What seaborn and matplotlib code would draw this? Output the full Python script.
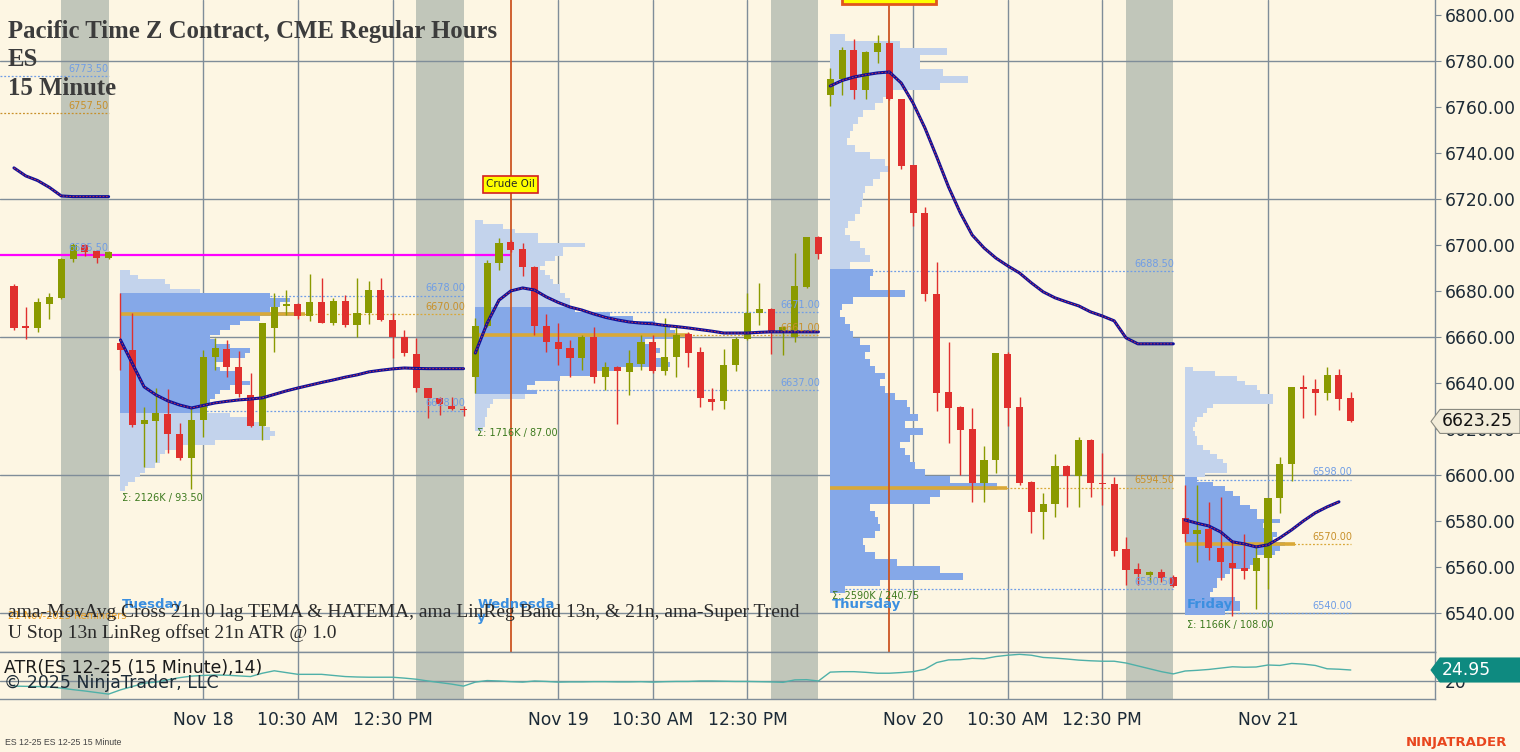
import numpy as np
import pandas as pd
import matplotlib.pyplot as plt
import seaborn as sns
from matplotlib.patches import Polygon

# %% data
# ES 12-25 15 minute bars: last 9 bars of Mon 17 Nov, Tue/Wed/Thu sessions, Fri up to 11:15
opens = [
    6682, 6664.5, 6664, 6674.5, 6677, 6694, 6700, 6697.5, 6694.5,
    6657.5, 6654.25, 6622, 6623.5, 6626.5, 6617.75, 6607.5, 6624, 6651.25, 6654.75,
    6647, 6634.75, 6621.25, 6664, 6673.5, 6674.25, 6669, 6675.25, 6666, 6675.75,
    6665.25, 6670.5, 6680.5, 6667.5, 6660, 6652.75, 6637.75, 6633.5, 6630, 6628.75,
    6642.5, 6664.75, 6692.25, 6701.25, 6698.25, 6690.5, 6664.75, 6657.75, 6655.25, 6651,
    6660, 6642.5, 6647, 6644.75, 6648.25, 6657.75, 6645.25, 6651.25, 6661.25, 6653.5,
    6633, 6632.25, 6647.75, 6659, 6670.5, 6672.25, 6661.75, 6660, 6681.75, 6703.5,
    6765.25, 6772.25, 6784.75, 6767.5, 6784, 6787.75, 6763.5, 6734.75, 6714, 6678.75,
    6636, 6629.5, 6620, 6596.5, 6606.5, 6652.5, 6629.5, 6597, 6584, 6587.5,
    6604, 6599.5, 6615.25, 6596.5, 6596, 6567.75, 6559, 6556.5, 6557.75, 6555.75,
    6581.25, 6574.25, 6576.5, 6568.25, 6561.75, 6559.5, 6558.25, 6564, 6590, 6604.75,
    6637.75, 6637.5, 6635.75, 6643.5, 6633.5,
]
highs = [
    6683, 6673, 6677, 6679, 6694.5, 6701, 6700.5, 6698, 6697.5,
    6679, 6670.5, 6629.5, 6638, 6637.5, 6622.5, 6629.5, 6654.25, 6659.5, 6658.75,
    6654, 6644.25, 6666, 6679, 6680.5, 6674.75, 6687.5, 6685.75, 6677, 6678.25,
    6685.75, 6684.25, 6685.75, 6670.5, 6663, 6659.5, 6638, 6634, 6634, 6630,
    6668.25, 6693.5, 6703, 6702, 6701, 6690.75, 6670, 6666, 6658.75, 6661,
    6664.25, 6649, 6647.5, 6654.25, 6661, 6661, 6668.25, 6664.25, 6662.25, 6655.5,
    6637.75, 6654.75, 6660, 6679, 6683.5, 6672.5, 6664.5, 6696.5, 6703.5, 6704,
    6777, 6786, 6789.5, 6784.25, 6791.25, 6788, 6763.5, 6734.75, 6716.5, 6692.5,
    6657.75, 6629.75, 6629, 6612.5, 6653, 6653.5, 6634, 6597.25, 6592.25, 6609,
    6604.25, 6616.5, 6615.5, 6609.5, 6599, 6573, 6561.75, 6558.25, 6559, 6556.5,
    6595.75, 6595.75, 6588.25, 6590.5, 6571.25, 6574.25, 6568.75, 6590, 6607.75, 6638.25,
    6643.5, 6641.75, 6647, 6646, 6636,
]
lows = [
    6663, 6659, 6662, 6668, 6676.5, 6692.5, 6695, 6692, 6694,
    6645.75, 6621, 6603.5, 6605.5, 6609.5, 6606.5, 6594, 6616.5, 6645.75, 6642.5,
    6634, 6621, 6615, 6653.5, 6669.5, 6668, 6667, 6666, 6665.25, 6664.25,
    6660, 6665.75, 6667, 6651, 6651.75, 6636, 6624.75, 6626, 6628.25, 6625.5,
    6635.75, 6664.25, 6689, 6697, 6686.5, 6661, 6653.5, 6647.75, 6642.5, 6645.75,
    6640, 6637, 6622.25, 6634.75, 6645.75, 6644.25, 6643.5, 6642.5, 6647, 6629.5,
    6628.25, 6628.75, 6645.25, 6658.75, 6665.25, 6652.5, 6652.25, 6657.75, 6681.25, 6694,
    6760.5, 6765.25, 6763.5, 6763.5, 6779, 6763, 6733, 6708.25, 6675.75, 6627.75,
    6614, 6600, 6588.25, 6588.25, 6601, 6621.25, 6595.75, 6574.75, 6572.25, 6581.75,
    6586, 6586, 6590.5, 6587, 6564.75, 6552.25, 6552.25, 6553.5, 6553.5, 6551.25,
    6571, 6562.25, 6563, 6554.25, 6538.75, 6554.75, 6541.75, 6550.5, 6583.5, 6597.5,
    6624.75, 6626, 6632.5, 6628.25, 6623,
]
closes = [
    6664, 6664, 6675, 6677.5, 6694, 6700, 6697, 6694.5, 6697,
    6654.5, 6621.75, 6624, 6627, 6617.75, 6607.5, 6624, 6651.25, 6655.25, 6647,
    6635.25, 6621.25, 6666, 6673, 6674, 6669, 6675.25, 6666.25, 6675.75, 6665.25,
    6670.5, 6680.5, 6667.5, 6660, 6653, 6637.75, 6633.5, 6631, 6628.75, 6628.25,
    6664.75, 6692.25, 6701, 6697.75, 6690.5, 6664.75, 6657.75, 6654.75, 6651, 6660,
    6642.5, 6647, 6645.25, 6648.75, 6657.75, 6645.25, 6651.25, 6661, 6653, 6633.5,
    6631.75, 6647.75, 6659, 6670.5, 6672.25, 6661.75, 6664.25, 6682.25, 6703.5, 6696,
    6772.25, 6784.75, 6767.5, 6784, 6787.75, 6763.5, 6734.25, 6714, 6678.75, 6635.75,
    6629, 6619.5, 6596.5, 6606.5, 6653, 6629, 6596.5, 6584, 6587.5, 6604,
    6599.5, 6615.25, 6596.5, 6596, 6567, 6558.75, 6557, 6557.75, 6555.25, 6551.75,
    6574.25, 6576, 6568.25, 6562.25, 6559.5, 6558.25, 6564, 6590, 6604.75, 6638.25,
    6637.5, 6635.75, 6643.5, 6633, 6623.25,
]
# ama-MovAvg line (breaks between sessions)
ma_line = [
    6733.5, 6730, 6728, 6725, 6721.3, 6721, 6721, 6721, 6721,
    6658.7, 6648.5, 6638.3, 6634.8, 6632.2, 6630.4, 6629.1, 6630.2, 6631.3, 6632,
    6632.6, 6633, 6633.5, 6635, 6636.5, 6637.8, 6639, 6640.2, 6641.3, 6642.5,
    6643.5, 6644.8, 6645.5, 6646.1, 6646.5, 6646.3, 6646.2, 6646.2, 6646.2, 6646.2,
    6653, 6666, 6676, 6680, 6681.3, 6680.4, 6677.4, 6675, 6673, 6671.7,
    6670, 6668.5, 6667.4, 6666.5, 6666, 6665.7, 6665, 6664.5, 6663.9, 6663.2,
    6662.5, 6661.7, 6661.7, 6661.7, 6662, 6662.2, 6662.2, 6662.2, 6662.2, 6662.2,
    6769.1, 6771.5, 6773, 6774, 6774.8, 6775.2, 6770.4, 6761.7, 6750.9, 6738.3,
    6725.2, 6713.9, 6704.3, 6698.7, 6694.3, 6690.9, 6687.8, 6683.5, 6679.6, 6677,
    6675.2, 6673.5, 6670.9, 6669.1, 6667, 6659.6, 6657, 6657, 6657, 6657,
    6580.4, 6579, 6577.8, 6575.2, 6570.9, 6570, 6568.7, 6569.6, 6572.6, 6576.1,
    6580, 6583.5, 6586.1, 6588.3, np.nan,
]
atr = [
    17.7, 17.6, 17.5, 17.3, 16.8, 16.1, 15.5, 14.8, 14.1,
    16.0, 17.5, 19.0, 19.5, 20.5, 21.5, 22.2, 22.5, 22.7, 22.6,
    22.3, 22.0, 23.5, 24.6, 23.8, 23.0, 23.0, 23.0, 22.5, 22.0,
    21.8, 21.7, 21.7, 21.7, 21.3, 20.8, 20.0, 19.3, 18.6, 17.7,
    19.5, 20.2, 20.0, 19.7, 19.5, 20.0, 19.8, 19.5, 19.6, 19.6,
    19.7, 19.7, 19.6, 19.6, 19.7, 19.5, 19.7, 19.8, 19.8, 20.0,
    20.0, 19.9, 19.8, 19.8, 19.7, 19.6, 19.4, 20.5, 20.6, 20.0,
    24.0, 24.2, 24.2, 23.9, 23.5, 23.5, 23.8, 24.2, 25.3, 28.3,
    29.5, 29.6, 30.2, 30.0, 31.0, 31.6, 32.0, 31.6, 30.6, 30.3,
    29.9, 29.4, 29.1, 28.9, 28.9, 28.1, 26.8, 25.5, 24.2, 23.2,
    24.5, 24.8, 25.2, 25.8, 26.4, 26.2, 26.3, 27.2, 27.0, 27.9,
    27.6, 27.0, 25.5, 25.3, 24.95,
]

session_first = [0, 9, 39, 69, 99]
session_last = [8, 38, 68, 98, 113]
day_names = ['', 'Tuesday', 'Wednesda\ny', 'Thursday', 'Friday']

# volume profiles (relative volume per price row, low -> high)
tue_prices = np.arange(6594, 6690, 2)
tue_vol = [5, 8, 15, 20, 25, 35, 40, 40, 45, 60, 95, 150, 155, 150, 145, 130, 110, 85, 88, 90,
           95, 100, 110, 130, 120, 115, 100, 95, 110, 125, 130, 110, 95, 90, 100, 110, 120, 140, 175, 150,
           160, 170, 150, 80, 50, 45, 18, 10]
wed_prices = np.arange(6620, 6712, 2)
wed_vol = [8, 10, 10, 12, 12, 15, 18, 50, 62, 52, 60, 85, 118, 140, 195, 190, 175, 185, 180, 170,
           205, 200, 195, 180, 158, 135, 100, 95, 95, 90, 85, 85, 78, 75, 70, 65, 70, 80, 88, 88,
           110, 63, 63, 40, 28, 8]
thu_prices = np.arange(6550, 6793, 3)
thu_vol = [15, 50, 133, 110, 67, 45, 35, 33, 45, 50, 48, 45, 40, 100, 110, 167, 120, 95, 85, 80,
           75, 70, 80, 93, 75, 88, 80, 77, 65, 55, 50, 55, 45, 40, 35, 40, 30, 23, 20, 15,
           10, 12, 23, 75, 40, 40, 43, 20, 40, 35, 30, 20, 15, 18, 25, 30, 32, 33, 35, 43,
           50, 60, 55, 40, 25, 17, 20, 23, 28, 33, 45, 53, 57, 110, 138, 113, 90, 90, 117, 70, 15]
fri_prices = np.arange(6540, 6648, 2)
fri_vol = [40, 55, 55, 50, 25, 28, 32, 32, 40, 45, 65, 70, 72, 90, 95, 100, 88, 92, 80, 78,
           95, 72, 72, 65, 55, 55, 48, 40, 28, 12, 20, 42, 42, 38, 32, 25, 18, 12, 12, 10,
           8, 10, 12, 18, 22, 28, 88, 88, 75, 72, 60, 52, 30, 8]

# value area low / point of control / value area high (Mon = previous session levels)
va_low = [6695.5, 6628, 6637, 6550.5, 6540]
poc = [6757.5, 6670, 6661, 6594.5, 6570]
va_high = [6773.5, 6678, 6671, 6688.5, 6598]
sigma_txt = ['', 'Σ: 2126K / 93.50', 'Σ: 1716K / 87.00', 'Σ: 2590K / 240.75', 'Σ: 1166K / 108.00']

xtick_bars = [16, 24, 32, 46, 54, 62, 76, 84, 92, 106]
xtick_labels = ['Nov 18', '10:30 AM', '12:30 PM', 'Nov 19', '10:30 AM', '12:30 PM',
                'Nov 20', '10:30 AM', '12:30 PM', 'Nov 21']
event_bars = [42, 74]

# %% style
BG = '#fdf6e3'
GRID = '#7f8d99'
GREY = '#c1c6ba'
UP = '#8a9a00'
DOWN = '#e0302e'
P_LIGHT = '#c3d3ec'
P_DARK = '#85a8e8'
POC_C = '#d9a838'
LVL_BLUE = '#6f9de6'
LVL_ORANGE = '#c8902a'
TXT = '#1c2a36'
PX_PER_BAR = 11.83

sns.set_style('white')
plt.rcParams['font.family'] = ['DejaVu Sans']
plt.rcParams['axes.facecolor'] = BG

fig = plt.figure(figsize=(15.2, 7.52), dpi=100, facecolor=BG)
ax = fig.add_axes([0, 1 - 652 / 752, 1435 / 1520, 652 / 752])
ax2 = fig.add_axes([0, 1 - 699 / 752, 1435 / 1520, 47 / 752])
xlim = (-1.18, 120.12)
for a in (ax, ax2):
    a.set_facecolor(BG)
    a.set_xlim(*xlim)
    a.spines['left'].set_visible(False)
    for s in ('right', 'bottom', 'top'):
        a.spines[s].set_color(GRID)
        a.spines[s].set_linewidth(1)
ax.spines['top'].set_visible(False)
ax.set_ylim(6523.0, 6806.5)
ax2.set_ylim(11.9, 33.05)

bars = np.arange(len(opens))

# session end shading and grid
for a in (ax, ax2):
    for last in session_last[:4]:
        a.axvspan(last - 4, last, color=GREY, lw=0, zorder=0.5)
    for b in xtick_bars:
        a.axvline(b, color=GRID, lw=1, zorder=0.6)
for lvl in range(6540, 6800, 60):
    ax.axhline(lvl, color=GRID, lw=1, zorder=0.6)
ax2.axhline(20, color=GRID, lw=1, zorder=0.6)

# previous-session levels (Monday)
ax.hlines(va_high[0], xlim[0], session_last[0], color=LVL_BLUE, lw=0.9, ls=(0, (1.5, 1.5)), zorder=1.5)
ax.hlines(poc[0], xlim[0], session_last[0], color=LVL_ORANGE, lw=0.9, ls=(0, (1.5, 1.5)), zorder=1.5)
ax.hlines(va_low[0], xlim[0], event_bars[0], color='#ff00ff', lw=1.6, zorder=3)
for lvl, c in ((va_high[0], LVL_BLUE), (poc[0], LVL_ORANGE), (va_low[0], LVL_BLUE)):
    ax.annotate(f'{lvl:.2f}', (session_last[0], lvl), xytext=(0, 1.5), textcoords='offset points',
                ha='right', va='bottom', fontsize=7, color=c, zorder=7)

# volume profiles
profiles = [(tue_prices, tue_vol, 2), (wed_prices, wed_vol, 2), (thu_prices, thu_vol, 3), (fri_prices, fri_vol, 2)]
day_y = 1 - 598 / 652
for k, (prices, vol, step) in enumerate(profiles, start=1):
    start, end = session_first[k], session_last[k]
    w = np.asarray(vol) / PX_PER_BAR
    in_va = (prices >= va_low[k] - 1) & (prices <= va_high[k] + 1)
    cols = np.where(in_va, P_DARK, P_LIGHT)
    ax.barh(prices, w, left=start, height=step, color=cols, lw=0, zorder=2)
    for lvl in (va_low[k], va_high[k]):
        ax.hlines(lvl, start, end, color=LVL_BLUE, lw=0.9, ls=(0, (1.5, 1.5)), zorder=1.8)
        ax.annotate(f'{lvl:.2f}', (end, lvl), xytext=(1, 1.5), textcoords='offset points',
                    ha='right', va='bottom', fontsize=7, color=LVL_BLUE, zorder=7)
    ax.hlines(poc[k], start, end, color=POC_C, lw=0.9, ls=(0, (1.5, 1.5)), zorder=1.8)
    ax.hlines(poc[k], start, start + w.max() + 0.8, color=POC_C, lw=2.6, zorder=2.5)
    ax.annotate(f'{poc[k]:.2f}', (end, poc[k]), xytext=(1, 1.5), textcoords='offset points',
                ha='right', va='bottom', fontsize=7, color=LVL_ORANGE, zorder=7)
    lo = min(lows[start:end + 1])
    ax.annotate(sigma_txt[k], (start, lo), xytext=(1, -3), textcoords='offset points',
                ha='left', va='top', fontsize=7, color='#3d7a1e', zorder=7)
    ax.text(start + 0.15, day_y, day_names[k], transform=ax.get_xaxis_transform(),
            ha='left', va='top', fontsize=9.5, fontweight='bold', color='#3b8fe0',
            linespacing=1.05, zorder=7)

# event lines
for b in event_bars:
    ax.axvline(b, color='#cc5522', lw=1.3, zorder=3)
ax.text(event_bars[0], 6726.3, 'Crude Oil', ha='center', va='center', fontsize=7.5, zorder=9,
        bbox=dict(boxstyle='square,pad=0.3', fc='#ffff00', ec='#d42020', lw=1.2))
ax.add_patch(plt.Rectangle((70.0, 6804.8), 7.9, 20, fc='#ffff00', ec='#e0561e', lw=2, zorder=9))

# candles
up = np.array(closes) >= np.array(opens)
ccol = np.where(up, UP, DOWN)
ax.vlines(bars, lows, highs, colors=ccol, lw=1, zorder=4)
body_lo = np.minimum(opens, closes)
body_h = np.maximum(np.abs(np.array(closes) - np.array(opens)), 0.6)
ax.bar(bars, body_h, bottom=body_lo, width=0.6, color=ccol, lw=0, zorder=5)

# moving average (one segment per session)
sess = np.searchsorted(session_first, bars, side='right')
ma_df = pd.DataFrame({'bar': bars, 'ma': ma_line, 'session': sess}).dropna()
sns.lineplot(data=ma_df, x='bar', y='ma', units='session', estimator=None, ax=ax,
             color='#10109a', lw=2.2, zorder=6, legend=False)
sns.lineplot(data=ma_df, x='bar', y='ma', units='session', estimator=None, ax=ax,
             color='#e03a3a', lw=0.6, ls=(0, (2, 2)), zorder=6.5, legend=False)

# ATR
sns.lineplot(x=bars, y=atr, ax=ax2, color='#4fb0a8', lw=1, zorder=3)

# axes, ticks
ax.set_xlabel('')
ax.set_ylabel('')
ax2.set_xlabel('')
ax2.set_ylabel('')
ax.set_xticks([])
ax.yaxis.tick_right()
ax.set_yticks(range(6540, 6801, 20))
ax.set_yticklabels([f'{v:.2f}' for v in range(6540, 6801, 20)])
ax.tick_params(axis='y', length=4, width=0.8, color=GRID, pad=3, labelsize=12.3, labelcolor=TXT)
ax2.yaxis.tick_right()
ax2.set_yticks([20])
ax2.set_yticklabels(['20'])
ax2.tick_params(axis='y', length=4, width=0.8, color=GRID, pad=3, labelsize=12.3, labelcolor=TXT)
ax2.set_xticks(xtick_bars)
ax2.set_xticklabels(xtick_labels)
ax2.tick_params(axis='x', length=4.3, width=0.8, color=GRID, pad=4.5, labelsize=12.3, labelcolor=TXT)

# current price / current ATR markers (drawn in pixel space, placed at the data value)
def marker(a, value, text, fc, ec, tc):
    fig.canvas.draw()
    yd = a.transData.transform((0, value))[1]
    x0 = a.transAxes.transform((1, 0))[0] - 4
    pts = [(x0, yd), (x0 + 9, yd + 12), (1520, yd + 12), (1520, yd - 12), (x0 + 9, yd - 12)]
    fig.patches.append(Polygon(pts, closed=True, fc=fc, ec=ec, lw=0.8, transform=None, zorder=10))
    fig.text((x0 + 11) / 1520, yd / 752, text, ha='left', va='center', fontsize=12.3,
             color=tc, zorder=11)

marker(ax, closes[-1], f'{closes[-1]:.2f}', '#f2ecd9', '#8a8a80', '#111111')
marker(ax2, atr[-1], f'{atr[-1]:.2f}', '#0e8a80', '#0e8a80', 'white')

# chart texts
def ftext(x, y, s, **kw):
    fig.text(x / 1520, 1 - y / 752, s, va='baseline', **kw)

serif = ['Liberation Serif', 'DejaVu Serif']
ftext(8, 38, 'Pacific Time Z Contract, CME Regular Hours', family=serif, fontsize=17.8,
      fontweight='bold', color='#3c3c3c')
ftext(8, 66, 'ES', family=serif, fontsize=17.8, fontweight='bold', color='#3c3c3c')
ftext(8, 95, '15 Minute', family=serif, fontsize=17.8, fontweight='bold', color='#3c3c3c')
ftext(8, 619, '21-Nov-2025 Reminders', fontsize=7, color='#f0a020')
ftext(8, 617, 'ama-MovAvg Cross 21n 0 lag TEMA & HATEMA, ama LinReg Band 13n, & 21n, ama-Super Trend',
      family=serif, fontsize=14, color='#2a2a2a')
ftext(8, 638, 'U Stop 13n LinReg offset 21n ATR @ 1.0', family=serif, fontsize=14, color='#2a2a2a')
ftext(4, 673, 'ATR(ES 12-25 (15 Minute),14)', fontsize=12.5, color='#1a1a1a')
ftext(4, 688, '© 2025 NinjaTrader, LLC', fontsize=12.5, color=TXT)
ftext(5, 745, 'ES 12-25 ES 12-25 15 Minute', family=['Liberation Sans'], fontsize=6.3, color='#444444')
ftext(1406, 746, 'NINJATRADER', fontsize=9.5, fontweight='bold', color='#e8461e')

fig.savefig('out.png', dpi=100, facecolor=BG)
